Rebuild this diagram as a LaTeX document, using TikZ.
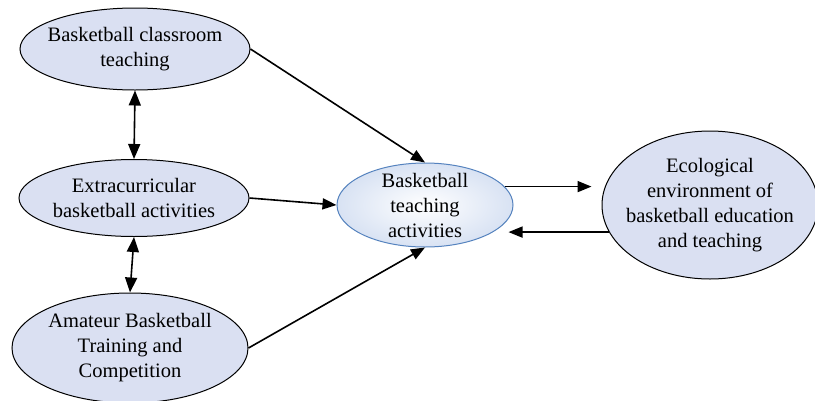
\documentclass[tikz,border=0pt]{standalone}
\usepackage{fontspec}
\setmainfont{Liberation Serif}
\usetikzlibrary{shapes.geometric,arrows.meta}
\definecolor{ellfill}{RGB}{218,224,242}
\definecolor{ctrborder}{RGB}{84,130,190}
\definecolor{ctrfill}{RGB}{216,226,243}
\begin{document}
\begin{tikzpicture}[x=1pt,y=-1pt,
  ell/.style={ellipse,draw=black,line width=1pt,fill=ellfill,inner sep=-40pt,align=center,
    font=\fontsize{20.5}{25}\selectfont},
  ctr/.style={ellipse,draw=ctrborder,line width=1pt,inner color=white,outer color=ctrfill,
    inner sep=-40pt,align=center,font=\fontsize{20.5}{25}\selectfont},
  arr/.style={line width=1.6pt,-{Triangle[length=14pt,width=11pt]}},
  darr/.style={line width=1.6pt,{Triangle[length=15pt,width=12pt]}-{Triangle[length=15pt,width=12pt]}}]
\useasboundingbox (0,0) rectangle (815,400);
\node[ell,minimum width=230pt,minimum height=82pt] (A) at (135,49) {Basketball classroom\\teaching};
\node[ell,minimum width=230pt,minimum height=77pt] (B) at (134,198) {Extracurricular\\basketball activities};
\node[ell,minimum width=236pt,minimum height=110pt] (C) at (130,348) {Amateur Basketball\\Training and\\Competition};
\node[ctr,minimum width=176pt,minimum height=84pt] (D) at (425,205) {Basketball\\teaching\\activities};
\node[ell,minimum width=216pt,minimum height=148pt] (E) at (710,205) {Ecological\\environment of\\basketball education\\and teaching};
\draw[arr,line width=1.8pt,shorten >=10pt] (D.13.5) -- (D.13.5 -| E.west);
\draw[arr] (A.east) -- (D.north);
\draw[arr] (B.east) -- (D.west);
\draw[arr] (C.east) -- (D.south);
\draw[arr,shorten >=-5pt] (E.195) -- (E.195 -| D.east);
\draw[darr] (A.south) -- (B.north);
\draw[darr] (B.south) -- (C.north);
\end{tikzpicture}
\end{document}
